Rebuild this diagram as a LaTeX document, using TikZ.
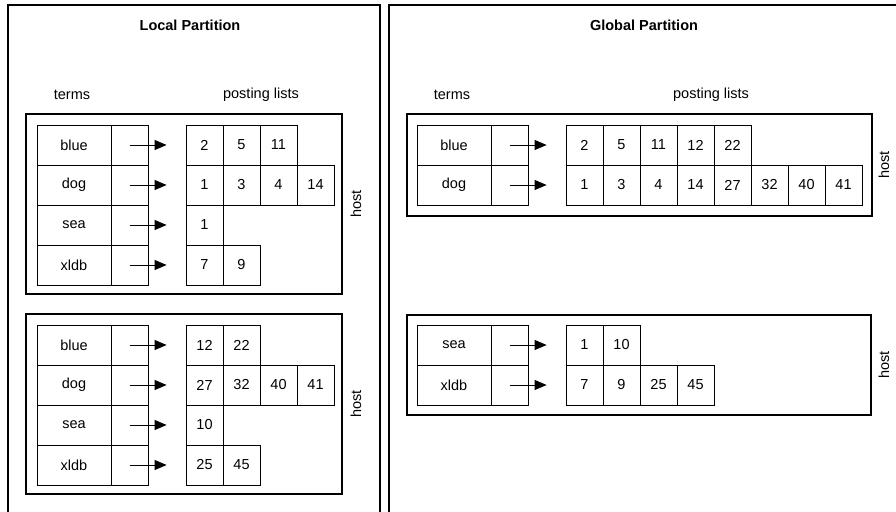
\documentclass[tikz,border=0pt]{standalone}
\usepackage{fontspec}
\setmainfont{Liberation Sans}
\usetikzlibrary{arrows.meta}
\tikzset{
  base/.style={font=\fontsize{14.5}{16}\selectfont},
  title/.style={font=\fontsize{14.5}{16}\selectfont\bfseries},
  panel/.style={draw, line width=2pt, inner sep=0pt},
  hostbox/.style={draw, line width=2.6pt, inner sep=0pt},
  termcell/.style={draw, line width=0.8pt, minimum width=74pt, minimum height=40pt, inner sep=0pt, base},
  ptrcell/.style={draw, line width=0.8pt, minimum width=37pt, minimum height=40pt, inner sep=0pt},
  postcell/.style={draw, line width=0.8pt, minimum width=37pt, minimum height=40pt, inner sep=0pt, base},
  ptr/.style={line width=0.8pt, -{Triangle[length=12pt,width=10pt]}, shorten >=19pt},
  hostlbl/.style={base, rotate=90}
}
% #1 name prefix, #2 table left x, #3 row top y, #4 term, #5 postings
\newcommand\termrow[5]{%
  \node[termcell] (#1t) at (#2+37, #3+20) {#4};
  \node[ptrcell] (#1p) at (#2+92.5, #3+20) {};
  \foreach \v [count=\i] in {#5} {
    \node[postcell] (#1c\i) at (#2+149+37*\i-18.5, #3+20) {\v};
  }
  \draw[ptr] (#1p.center) -- (#1c1.west);
}
\begin{document}
\begin{tikzpicture}[x=1pt,y=-1pt]
\useasboundingbox (0,0) rectangle (896,511);
\begin{scope}
\clip (0,0) rectangle (896,511);
% panels
\node[panel, minimum width=372pt, minimum height=530pt] (lpanel) at (194,270) {};
\node[panel, minimum width=540pt, minimum height=530pt] (gpanel) at (659,270) {};
\end{scope}
% titles
\node[title] (ltitle) at (190,25) {Local Partition};
\node[title] (gtitle) at (644,25) {Global Partition};
\node[base] (lterms) at (72,95) {terms};
\node[base] (lpost) at (261,95) {posting lists};
\node[base] (gterms) at (452,95) {terms};
\node[base] (gpost) at (711,95) {posting lists};
% host boxes
\node[hostbox, minimum width=316pt, minimum height=180pt] (h1) at (184,204) {};
\node[hostbox, minimum width=316pt, minimum height=180pt] (h2) at (184,404) {};
\node[hostbox, minimum width=465pt, minimum height=102pt] (h3) at (639.5,165) {};
\node[hostbox, minimum width=464pt, minimum height=100pt] (h4) at (639,365) {};
\node[hostlbl] (h1l) at (356,204) {host};
\node[hostlbl] (h2l) at (356,404) {host};
\node[hostlbl] (h3l) at (884,165) {host};
\node[hostlbl] (h4l) at (884,365) {host};
% local top
\termrow{a1}{37}{125}{blue}{2,5,11}
\termrow{a2}{37}{165}{dog}{1,3,4,14}
\termrow{a3}{37}{205}{sea}{1}
\termrow{a4}{37}{245}{xldb}{7,9}
% local bottom
\termrow{b1}{37}{325}{blue}{12,22}
\termrow{b2}{37}{365}{dog}{27,32,40,41}
\termrow{b3}{37}{405}{sea}{10}
\termrow{b4}{37}{445}{xldb}{25,45}
% global top
\termrow{c1}{417}{125}{blue}{2,5,11,12,22}
\termrow{c2}{417}{165}{dog}{1,3,4,14,27,32,40,41}
% global bottom
\termrow{d1}{417}{325}{sea}{1,10}
\termrow{d2}{417}{365}{xldb}{7,9,25,45}
\end{tikzpicture}
\end{document}
